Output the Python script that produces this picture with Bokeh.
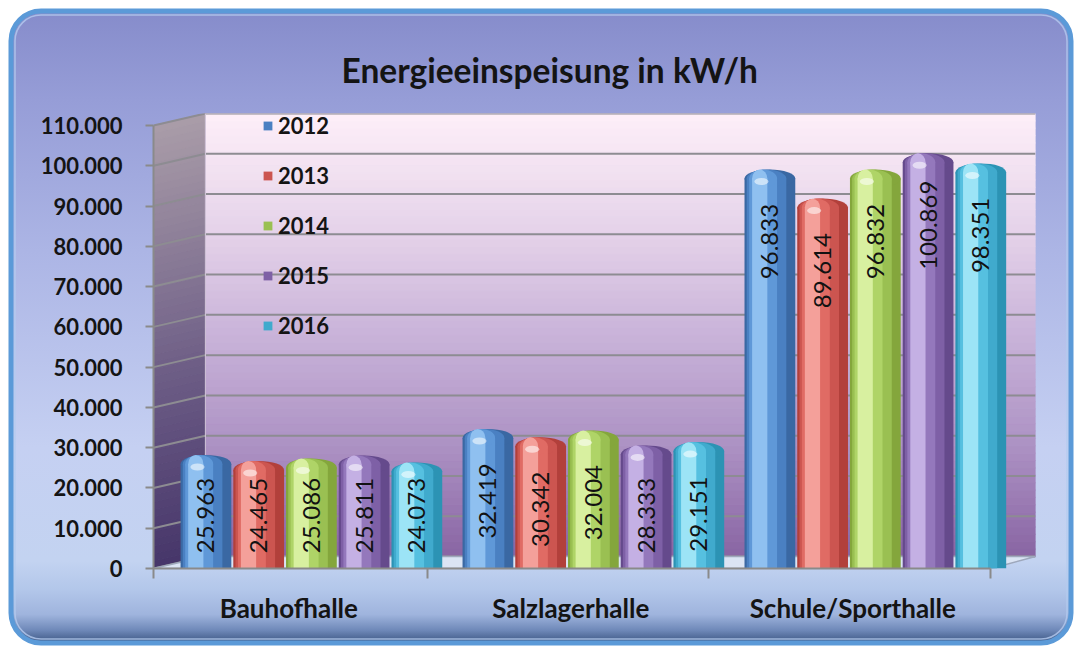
import numpy as np
from urllib.parse import quote
from bokeh.plotting import figure
from bokeh.models import Range1d, FixedTicker, Legend, LegendItem
from bokeh.embed import file_html
from bokeh.resources import INLINE
from bokeh.core.properties import value

# ---------------- data ----------------
categories = ["Bauhofhalle", "Salzlagerhalle", "Schule/Sporthalle"]
years = ["2012", "2013", "2014", "2015", "2016"]
v2012 = [25963, 32419, 96833]
v2013 = [24465, 30342, 89614]
v2014 = [25086, 32004, 96832]
v2015 = [25811, 28333, 100869]
v2016 = [24073, 29151, 98351]
series = [v2012, v2013, v2014, v2015, v2016]
y_ticks = list(range(0, 110001, 10000))
title_text = "Energieeinspeisung in kW/h"

# ---------------- styling ----------------
FONT = "Lato"
W, H = 1076, 647
XMIN, XMAX = -0.56, 2.568
YTOP = 110000
DEPTH_Y = 2980
YMAX = YTOP + DEPTH_Y
DEPTH_X = 0.184
XB = XMIN + DEPTH_X
FRONT_RIGHT = 2.41
UNITS_PER_PX = YTOP / 443.0

palettes = [
    ["#3a68a3", "#4a80c2", "#5f98d8", "#8fc0f0"],
    ["#b2403b", "#cc5550", "#e06b64", "#f4a09a"],
    ["#84a63c", "#9ac052", "#afd467", "#d8f0a0"],
    ["#654a8c", "#7e60a6", "#9478bc", "#c4b0e4"],
    ["#2c93b4", "#40aacd", "#56c0e0", "#9ce4f6"],
]


def hex2rgb(h):
    h = h.lstrip("#")
    return np.array([int(h[i:i + 2], 16) for i in (0, 2, 4)], dtype=float)


def gradient(stops, n):
    ts = np.array([s[0] for s in stops])
    cs = np.array([hex2rgb(s[1]) for s in stops])
    out = []
    for t in np.linspace(0, 1, n):
        rgb = [np.interp(t, ts, cs[:, k]) for k in range(3)]
        out.append("#%02x%02x%02x" % tuple(int(round(c)) for c in rgb))
    return out


# rounded chart-area frame painted as a CSS background image
bg_stops = [(0.0, "#868ccb"), (0.14, "#969dd7"), (0.38, "#acb5e5"), (0.69, "#c5d0f2"),
            (0.87, "#c3d3f1"), (0.915, "#b3c7ea"), (0.955, "#9fb4dd"), (0.98, "#6e88b8"),
            (1.0, "#3b5581")]
stop_svg = "".join(f"<stop offset='{o}' stop-color='{c}'/>" for o, c in bg_stops)
svg = (f"<svg xmlns='http://www.w3.org/2000/svg' width='{W}' height='{H}'>"
       f"<defs><linearGradient id='g' x1='0' y1='0' x2='0' y2='1'>{stop_svg}</linearGradient></defs>"
       f"<rect x='11' y='11' width='{W - 16}' height='{H - 15}' rx='30' ry='30' fill='url(#g)' "
       f"stroke='#5b9ad8' stroke-width='5'/>"
       f"<rect x='15' y='15' width='{W - 24}' height='{H - 23}' rx='26' ry='26' fill='none' "
       f"stroke='#b4cbef' stroke-width='1.5' stroke-opacity='0.8'/></svg>")

p = figure(width=W, height=H, x_range=Range1d(XMIN, XMAX), y_range=Range1d(0, YMAX),
           output_backend="svg", toolbar_location=None, tools="",
           min_border_left=153, min_border_right=W - 1035, min_border_top=113,
           min_border_bottom=H - 568,
           styles={"background-image": f'url("data:image/svg+xml,{quote(svg)}")',
                   "background-repeat": "no-repeat"})
p.border_fill_alpha = 0
p.background_fill_alpha = 0
p.outline_line_color = None
p.xgrid.visible = False
p.ygrid.visible = False

# title
p.title.text = title_text
p.title.align = "left"
p.title.offset = 188
p.title.standoff = 48
p.title.text_font = FONT
p.title.text_font_size = "33.5px"
p.title.text_font_style = "bold"
p.title.text_color = "#141414"

# ---------------- back wall (gradient strips) ----------------
N = 60
ys = np.linspace(DEPTH_Y, YMAX, N + 1)
back_cols = gradient([(0, "#8a66a4"), (0.25, "#ad92c4"), (0.5, "#c9b3d9"),
                      (0.75, "#e6d4ea"), (1.0, "#fdeef8")], N)
p.quad(left=XB, right=XMAX, bottom=ys[:-1], top=ys[1:], fill_color=back_cols,
       line_color=back_cols, line_width=1)

# side wall
yf = np.linspace(0, YTOP, N + 1)
side_cols = gradient([(0, "#47366a"), (0.4, "#6a5a84"), (1.0, "#a99ca8")], N)
xs_side = [[XMIN, XMIN, XB, XB] for i in range(N)]
ys_side = [[yf[i], yf[i + 1], yf[i + 1] + DEPTH_Y, yf[i] + DEPTH_Y] for i in range(N)]
p.patches(xs_side, ys_side, fill_color=side_cols, line_color=side_cols, line_width=1)

# gridlines on back wall and side wall
GRID = "#8d8c92"
p.segment(x0=XB, y0=[t + DEPTH_Y for t in y_ticks], x1=XMAX, y1=[t + DEPTH_Y for t in y_ticks],
          line_color=GRID, line_width=2)
p.segment(x0=XMIN, y0=y_ticks, x1=XB, y1=[t + DEPTH_Y for t in y_ticks],
          line_color=GRID, line_width=2)
p.segment(x0=XB, y0=DEPTH_Y, x1=XB, y1=YMAX, line_color="#d8cadf", line_width=1)

# floor
p.patch([XMIN, XB, XMAX, FRONT_RIGHT], [0, DEPTH_Y, DEPTH_Y, 0],
        fill_color="#dbe4f4", line_color="#9ea8bc", line_width=1.5)

# ---------------- cylinders ----------------
BAR_W = 0.18
PITCH = 0.187
layer_w = [1.0, 0.78, 0.55, 0.3]
CAP_H = 18
legend_renderers = []
for j, vals in enumerate(series):
    xs = [c + (j - 2) * PITCH for c in range(len(categories))]
    for k, f in enumerate(layer_w):
        xk = [x - 0.012 * k for x in xs]
        r = p.vbar(x=xk, width=BAR_W * f, bottom=0, top=vals,
                   fill_color=palettes[j][k], line_color=None)
        p.ellipse(x=xk, y=vals, width=BAR_W * f, height=CAP_H, height_units="screen",
                  fill_color=palettes[j][k], line_color=None)
        if k == 1:
            legend_renderers.append(r)
    p.ellipse(x=[x - 0.03 for x in xs], y=[v - 3 * UNITS_PER_PX for v in vals],
              width=BAR_W * 0.28, height=7, height_units="screen",
              fill_color="#ffffff", fill_alpha=0.55, line_color=None)

    labels = [f"{v:,}".replace(",", ".") for v in vals]
    ly = [max(v - 63 * UNITS_PER_PX, 53 * UNITS_PER_PX) for v in vals]
    p.text(x=xs, y=ly, text=labels, angle=np.pi / 2, text_align="center",
           text_baseline="middle", text_font=value(FONT), text_font_size="24px",
           text_color="#121212")

# ---------------- axes ----------------
yax = p.yaxis[0]
yax.ticker = FixedTicker(ticks=y_ticks)
yax.major_label_overrides = {t: f"{t:,}".replace(",", ".") for t in y_ticks}
yax.bounds = (0, YTOP)
yax.axis_line_color = "#8a8a8a"
yax.axis_line_width = 2
yax.major_tick_line_color = "#8a8a8a"
yax.major_tick_line_width = 2
yax.major_tick_out = 8
yax.major_tick_in = 0
yax.minor_tick_line_color = None
yax.major_label_standoff = 23
yax.major_label_text_font = FONT
yax.major_label_text_font_size = "22px"
yax.major_label_text_font_style = "bold"
yax.major_label_text_color = "#141414"

xax = p.xaxis[0]
label_pos = [round(c - 0.08, 2) for c in range(len(categories))]
bounds = [XMIN] + [round(c - 0.59, 2) for c in range(1, len(categories) + 1)]
xax.ticker = FixedTicker(ticks=label_pos, minor_ticks=bounds)
xax.major_label_overrides = {pos: name for pos, name in zip(label_pos, categories)}
xax.bounds = (XMIN, FRONT_RIGHT)
xax.axis_line_color = "#8a8a8a"
xax.axis_line_width = 2
xax.major_tick_line_color = None
xax.major_tick_out = 0
xax.major_tick_in = 0
xax.minor_tick_line_color = "#8a8a8a"
xax.minor_tick_line_width = 2
xax.minor_tick_out = 10
xax.minor_tick_in = 0
xax.major_label_standoff = 13
xax.major_label_text_font = FONT
xax.major_label_text_font_size = "26px"
xax.major_label_text_font_style = "bold"
xax.major_label_text_color = "#141414"

# ---------------- legend ----------------
legend = Legend(items=[LegendItem(label=y, renderers=[r]) for y, r in zip(years, legend_renderers)],
                location=(109, 229), orientation="vertical", padding=0, spacing=23,
                border_line_color=None, background_fill_alpha=0,
                glyph_width=11, glyph_height=11, label_height=26, label_standoff=5,
                label_text_font=FONT, label_text_font_size="22px", label_text_font_style="bold",
                label_text_color="#141414")
p.add_layout(legend)

open("out.html", "w").write(file_html(p, INLINE))
